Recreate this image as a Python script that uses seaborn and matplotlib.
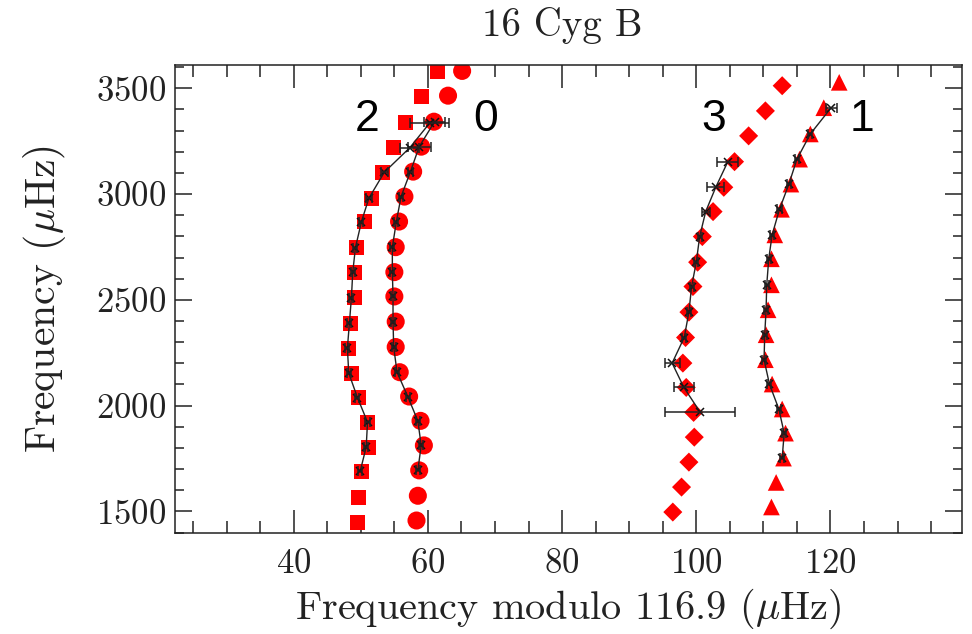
import matplotlib
matplotlib.use("Agg")
import numpy as np
import pandas as pd
import seaborn as sns
import matplotlib.pyplot as plt
from matplotlib.ticker import MultipleLocator

# ---------------- data ----------------
# l = 0 (red circles)
l0_freq = [1457, 1574, 1694, 1812, 1928, 2043, 2158, 2277, 2397, 2516,
           2631, 2749, 2870, 2988, 3106, 3224, 3342, 3465, 3582]
l0_mod = [58.3, 58.5, 58.7, 59.4, 58.9, 57.2, 55.8, 55.2, 55.2, 55.0,
          55.0, 55.2, 55.7, 56.5, 57.8, 59.0, 60.9, 63.0, 65.1]
# l = 2 (red squares)
l2_freq = [1450, 1568, 1689, 1804, 1922, 2038, 2154, 2272, 2390, 2511,
           2631, 2747, 2870, 2980, 3103, 3219, 3337, 3460, 3578]
l2_mod = [49.5, 49.6, 50.1, 51.2, 51.0, 49.7, 48.6, 48.2, 48.5, 49.0,
          49.1, 49.4, 50.6, 51.6, 53.2, 54.9, 56.7, 59.1, 61.4]
# l = 3 (red diamonds)
l3_freq = [1497, 1615, 1733, 1851, 1968, 2086, 2201, 2322, 2442, 2563,
           2678, 2799, 2917, 3032, 3153, 3275, 3393, 3512]
l3_mod = [96.5, 97.8, 98.9, 99.7, 99.6, 98.5, 98.0, 98.4, 98.9, 99.5,
          100.2, 100.9, 102.5, 104.1, 105.7, 107.8, 110.3, 112.8]
# l = 1 (red triangles)
l1_freq = [1521, 1637, 1752, 1870, 1984, 2102, 2217, 2335, 2453, 2571,
           2694, 2807, 2928, 3047, 3165, 3284, 3408, 3528]
l1_mod = [111.2, 111.9, 113.0, 113.3, 112.8, 111.3, 110.3, 110.4, 110.7, 111.2,
          111.2, 111.7, 112.7, 114.1, 115.4, 117.0, 119.0, 121.3]

# black points with error bars
b0_freq = [1694, 1812, 1928, 2043, 2158, 2277, 2397, 2516, 2631, 2749,
           2870, 2988, 3106, 3224, 3342]
b0_mod = [58.5, 59.0, 58.5, 57.0, 55.4, 54.9, 54.8, 54.8, 54.7, 54.7,
          55.3, 56.0, 57.4, 58.7, 61.0]
b0_err = [0.3, 0.3, 0.3, 0.3, 0.3, 0.3, 0.3, 0.3, 0.3, 0.3,
          0.3, 0.3, 0.4, 1.7, 1.6]

b2_freq = [1689, 1804, 1922, 2038, 2154, 2272, 2390, 2511, 2631, 2747,
           2870, 2980, 3103, 3219, 3337]
b2_mod = [49.9, 50.8, 51.0, 49.5, 48.2, 48.0, 48.3, 48.6, 48.8, 49.2,
          50.1, 51.2, 53.5, 57.3, 60.3]
b2_err = [0.3, 0.3, 0.4, 0.3, 0.3, 0.3, 0.3, 0.3, 0.3, 0.3,
          0.3, 0.4, 0.5, 1.4, 2.9]

b3_freq = [1968, 2086, 2201, 2322, 2442, 2563, 2678, 2799, 2917, 3032, 3153]
b3_mod = [100.6, 98.15, 96.4, 98.2, 98.9, 99.3, 100.0, 100.5, 101.4, 102.9, 104.7]
b3_err = [5.2, 1.5, 1.1, 0.3, 0.3, 0.3, 0.3, 0.3, 0.6, 1.25, 1.55]

b1_freq = [1752, 1870, 1984, 2102, 2217, 2335, 2453, 2571, 2694, 2807,
           2928, 3047, 3165, 3284, 3408]
b1_mod = [112.8, 113.1, 112.3, 110.9, 110.1, 110.2, 110.4, 110.5, 110.8, 111.3,
          112.4, 113.8, 115.0, 117.0, 120.1]
b1_err = [0.3, 0.3, 0.3, 0.3, 0.3, 0.3, 0.3, 0.3, 0.3, 0.3,
          0.3, 0.3, 0.3, 0.3, 0.8]

degree_labels = ["2", "0", "3", "1"]
degree_label_x = [51.0, 68.6, 102.6, 124.7]
degree_label_y = [3300, 3300, 3300, 3300]

# ---------------- style ----------------
sns.set_theme(style="ticks")
plt.rcParams["font.family"] = ["cmr10", "DejaVu Serif"]
plt.rcParams["mathtext.fontset"] = "cm"
plt.rcParams["axes.formatter.use_mathtext"] = True
plt.rcParams["axes.unicode_minus"] = False

fig, ax = plt.subplots(figsize=(9.72, 6.34), dpi=100)
fig.subplots_adjust(left=0.180, right=0.9897, top=0.8975, bottom=0.1593)

red = "#ff0000"
red_sets = [
    (l0_mod, l0_freq, "o", 13.0),
    (l2_mod, l2_freq, "s", 10.8),
    (l3_mod, l3_freq, "D", 9.7),
    (l1_mod, l1_freq, "^", 12.0),
]
for xs, ys, mk, ms in red_sets:
    df = pd.DataFrame({"x": xs, "y": ys})
    sns.scatterplot(data=df, x="x", y="y", marker=mk, s=ms ** 2, color=red,
                    edgecolor="none", linewidth=0, ax=ax, zorder=2)

black_sets = [
    (b0_mod, b0_freq, b0_err),
    (b2_mod, b2_freq, b2_err),
    (b3_mod, b3_freq, b3_err),
    (b1_mod, b1_freq, b1_err),
]
for xs, ys, es in black_sets:
    df = pd.DataFrame({"x": xs, "y": ys})
    sns.lineplot(data=df, x="x", y="y", sort=False, estimator=None,
                 color="#222222", lw=1.0, marker="x", markersize=5.5,
                 markeredgewidth=1.1, markeredgecolor="#111111", ax=ax, zorder=3)
    ax.errorbar(xs, ys, xerr=es, fmt="none", ecolor="#222222",
                elinewidth=1.1, capsize=3.6, capthick=1.1, zorder=3)

for t, x, y in zip(degree_labels, degree_label_x, degree_label_y):
    ax.text(x, y, t, family="Liberation Sans", fontsize=32, ha="center",
            va="baseline", color="black", zorder=4)

ax.set_xlim(22.3, 139.6)
ax.set_ylim(1398, 3610)
ax.xaxis.set_major_locator(MultipleLocator(20))
ax.xaxis.set_minor_locator(MultipleLocator(5))
ax.yaxis.set_major_locator(MultipleLocator(500))
ax.yaxis.set_minor_locator(MultipleLocator(100))

ax.tick_params(which="both", direction="in", top=True, right=True,
               colors="#222222", width=1.1)
ax.tick_params(axis="x", which="major", length=16.5, pad=11, labelsize=25)
ax.tick_params(axis="x", which="minor", length=8.6)
ax.tick_params(axis="y", which="major", length=12, pad=6.5, labelsize=25)
ax.tick_params(axis="y", which="minor", length=6.5)
for sp in ax.spines.values():
    sp.set_linewidth(1.1)
    sp.set_color("#222222")

ax.set_xlabel(r"Frequency modulo 116.9 ($\mu$Hz)", fontsize=29, labelpad=5,
              color="#222222")
ax.set_ylabel(r"Frequency ($\mu$Hz)", fontsize=30, labelpad=20, color="#222222")
fig.text(562 / 972, 1 - 36 / 634, "16 Cyg B", ha="center", va="baseline",
         fontsize=28, color="#222222")

fig.savefig("out.png", dpi=100)
